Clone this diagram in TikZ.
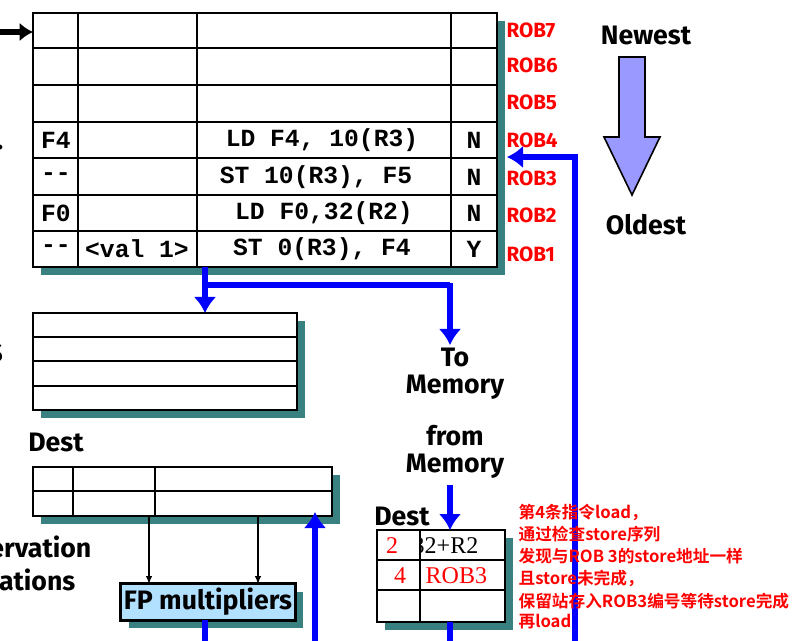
\documentclass[tikz,border=0pt]{standalone}
\usepackage{fontspec}
\setmainfont{Fira Sans}
\newfontfamily\cjk{Noto Sans CJK SC}[BoldFont={* Bold}]
\newfontfamily\mono{Liberation Mono}
\newfontfamily\serifr{Liberation Serif}
\usetikzlibrary{arrows.meta}
\begin{document}
\begin{tikzpicture}[x=0.75pt,y=-0.75pt,
  grid/.style={line width=1.6pt,draw=black},
  blu/.style={draw=blue,line width=5pt},
  bluarr/.style={blu,-{Latex[length=12pt,width=17pt]}},
  lbl/.style={font=\bfseries\fontsize{20}{20}\selectfont,align=center},
  rob/.style={text=red,font=\bfseries\fontsize{15.5}{17}\selectfont,anchor=west,inner sep=1pt},
  cell/.style={font=\mono\bfseries\fontsize{18.5}{20}\selectfont},
  sv/.style={font=\serifr\fontsize{18}{20}\selectfont},
  cn/.style={text=red,font=\cjk\bfseries\fontsize{12.5}{14}\selectfont,anchor=west,inner sep=1pt}]
\useasboundingbox (0,0) rectangle (796,641);
\clip (0,0) rectangle (796,641);
\colorlet{shd}{teal!55!gray}
% ROB table
\fill[shd] (41,21) rectangle (505,275);
\fill[white] (33,13) rectangle (497,267);
\foreach \y in {48,85,122,158,195,231} \draw[grid] (33,\y) -- (497,\y);
\foreach \x in {78,197,451} \draw[grid] (\x,13) -- (\x,267);
\draw[grid] (33,13) rectangle (497,267);
\node[cell] at (56,140) {F4};
\node[cell] at (322,140) {LD F4, 10(R3)};
\node[cell] at (474,140) {N};
\node[cell] at (56,177) {--};
\node[cell] at (316,177) {ST 10(R3), F5};
\node[cell] at (474,177) {N};
\node[cell] at (56,213) {F0};
\node[cell] at (324,213) {LD F0,32(R2)};
\node[cell] at (474,213) {N};
\node[cell] at (56,249) {--};
\node[cell] at (137,249) {<val 1>};
\node[cell] at (322,249) {ST 0(R3), F4};
\node[cell] at (474,249) {Y};
\foreach \i/\y in {7/30,6/65,5/102,4/140,3/178,2/215,1/254} \node[rob] at (505,\y) {ROB\i};
\coordinate (in) at (0,32);
\coordinate (robin) at (33,32);
\draw[-{Latex[length=10pt,width=14pt]},line width=4pt] (in) -- (robin);
% left cut labels
\node[lbl,anchor=east] at (8,148) {.};
\node[lbl,anchor=east,font=\bfseries\fontsize{26}{26}\selectfont] at (8,353) {s};
\node[lbl,anchor=east] at (96,547) {Reservation};
\node[lbl,anchor=east] at (80,580) {Stations};
% Newest arrow
\node[lbl] (newest) at (646,35) {Newest};
\node[lbl] (oldest) at (646,225) {Oldest};
\draw[line width=1.2pt,fill=blue!40] (619,57) -- (645,57) -- (645,137) -- (660,137) -- (632,195) -- (604,137) -- (619,137) -- cycle;
% Registers
\fill[shd] (41,321) rectangle (305,418);
\fill[white] (33,313) rectangle (297,410);
\foreach \y in {337,361,386} \draw[grid] (33,\y) -- (297,\y);
\draw[grid] (33,313) rectangle (297,410);
\coordinate (regtop) at (205,313);
\coordinate (robbot) at (205,267);
\draw[bluarr] (robbot) -- (regtop);
\draw[blu] (205,285) -- (450,285);
\node[lbl] (tomem) at (455,374) {To\\Memory};
\draw[bluarr] (450,283) -- (450,345);
\node[lbl] (frommem) at (455,452) {from\\Memory};
% RS
\node[lbl] at (56,442) {Dest};
\fill[shd] (41,475) rectangle (340,524);
\fill[white] (33,467) rectangle (332,516);
\draw[grid] (33,491) -- (332,491);
\foreach \x in {73,155} \draw[grid] (\x,467) -- (\x,516);
\draw[grid] (33,467) rectangle (332,516);
% FP multipliers
\fill[shd] (129,592) rectangle (303,628);
\begin{scope}
\node[draw,line width=1.6pt,fill=blue!40!cyan!30,minimum width=130.5pt,minimum height=27pt,inner sep=0pt] (fp) at (208,602) {};
\clip (fp.south west) rectangle (fp.north east);
\node[font=\bfseries\fontsize{20}{20}\selectfont] at (208,602) {FP multipliers};
\end{scope}
\draw[grid] (fp.south west) rectangle (fp.north east);
\draw[-{Latex[length=6pt,width=5pt]},line width=1pt] (149,516) -- (149,584);
\draw[-{Latex[length=6pt,width=5pt]},line width=1pt] (258,516) -- (258,584);
\draw[blu] (205,620) -- (205,641);
\draw[bluarr] (315,641) -- (315,512);
% load buffer
\node[lbl] at (402,516) {Dest};
\fill[shd] (385,538) rectangle (513,630);
\fill[white] (377,530) rectangle (505,622);
\foreach \y in {560,590} \draw[grid] (377,\y) -- (505,\y);
\draw[grid] (420,530) -- (420,622);
\draw[grid] (377,530) rectangle (505,622);
\begin{scope}
\clip (421,530) rectangle (505,560);
\node[sv,anchor=west] at (408,546) {32+R2};
\end{scope}
\node[sv,text=red] at (392,546) {2};
\node[sv,text=red] at (400,576) {4};
\node[sv,text=red,anchor=west] at (421,576) {ROB3};
\draw[bluarr] (450,485) -- (450,530);
\draw[blu] (450,622) -- (450,641);
% return bus
\draw[blu] (575,641) -- (575,157) -- (520,157);
\draw[bluarr] (540,157) -- (507,157);
% note
\foreach \t/\y in {{第4条指令load，}/512,{通过检查store序列}/534,{发现与ROB 3的store地址一样}/556,{且store未完成，}/578,{保留站存入ROB3编号等待store完成}/601,{再load}/622}
  \node[cn] at (517,\y) {\t};
\end{tikzpicture}
\end{document}
